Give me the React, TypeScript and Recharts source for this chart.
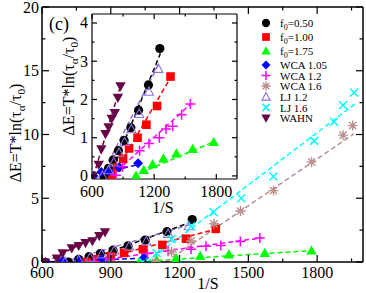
import React from 'react';
import { LineChart, Line, XAxis, YAxis, CartesianGrid } from 'recharts';

const FONT = '"Liberation Serif", "Times New Roman", serif';

// f0 = 0.50
const f050X = [715, 760, 805, 855, 910, 975, 1050, 1145, 1255];
const f050Y = [0.0, 0.2, 0.42, 0.66, 0.93, 1.26, 1.72, 2.38, 3.33];
const f050FitX = [775, 1260];
const f050FitY = [0, 3.2];

// f0 = 1.00
const f100X = [795, 842, 900, 958, 1040, 1125, 1228, 1358];
const f100Y = [0.0, 0.22, 0.45, 0.72, 1.0, 1.34, 1.83, 2.6];
const f100FitX = [805, 1360];
const f100FitY = [0, 2.58];

// f0 = 1.75
const f175X = [1025, 1100, 1185, 1290, 1415, 1572, 1775];
const f175Y = [0.0, 0.15, 0.3, 0.45, 0.58, 0.7, 0.88];
const f175FitX = [1000, 1780];
const f175FitY = [0, 0.9];

// WCA 1.05
const wca105X = [615, 690, 760, 860, 1045];
const wca105Y = [0.0, 0.1, 0.12, 0.22, 0.33];
const wca105FitX = [600, 1050];
const wca105FitY = [0, 0.3];

// WCA 1.2
const wca12X = [830, 895, 1060, 1150, 1250, 1315, 1380, 1465, 1550];
const wca12Y = [0.02, 0.24, 0.66, 0.85, 1.0, 1.23, 1.3, 1.6, 1.88];
const wca12FitX = [790, 1560];
const wca12FitY = [0, 1.9];

// WCA 1.6
const wca16X = [1095, 1165, 1250, 1350, 1466, 1610, 1776, 1913, 1955];
const wca16Y = [0.0, 0.8, 1.65, 3.0, 4.0, 5.6, 7.85, 9.95, 10.7];
const wca16FitX = [1140, 1960];
const wca16FitY = [0, 10.05];

// LJ 1.2
const lj12X = [700, 760, 810, 860, 915, 980, 1055, 1150, 1240];
const lj12Y = [0.0, 0.15, 0.35, 0.6, 0.88, 1.22, 1.62, 2.2, 2.8];
const lj12FitX = [690, 1250];
const lj12FitY = [0, 2.95];

// LJ 1.6
const lj16X = [1040, 1100, 1165, 1250, 1348, 1469, 1609, 1787, 1874, 1913, 1961];
const lj16Y = [0.0, 0.7, 1.8, 2.8, 3.9, 5.0, 6.7, 9.5, 11.0, 12.3, 13.3];
const lj16FitX = [1058, 1965];
const lj16FitY = [0, 12.4];

// WAHN
const wahnX = [610, 665, 690, 730, 760, 790, 820, 850, 875];
const wahnY = [0.0, 0.3, 0.7, 1.1, 1.28, 1.5, 1.65, 2.05, 2.35];
const wahnFitX = [615, 880];
const wahnFitY = [0, 2.4];

const mainXTicks = [600, 750, 900, 1050, 1200, 1350, 1500, 1650, 1800, 1950];
const mainXLabels = [600, 900, 1200, 1500, 1800];
const mainYTicks = [0, 2.5, 5, 7.5, 10, 12.5, 15, 17.5, 20];
const mainYLabels = [0, 5, 10, 15, 20];
const insetXTicks = [600, 900, 1200, 1500, 1800];
const insetXLabels = [600, 1200, 1800];
const insetYTicks = [0, 0.5, 1, 1.5, 2, 2.5, 3, 3.5, 4];
const insetYLabels = [0, 1, 2, 3, 4];

type Kind = 'circle' | 'square' | 'tri' | 'diamond' | 'plus' | 'star' | 'triOpen' | 'cross' | 'triDown';

const pts = (xs: number[], ys: number[]) => xs.map((x, i) => ({ x, y: ys[i] }));

const series = [
  { id: 'f050', label: 'f0=0.50', sub: true, kind: 'circle' as Kind, color: '#000000', xs: f050X, ys: f050Y, fx: f050FitX, fy: f050FitY, inset: true },
  { id: 'f100', label: 'f0=1.00', sub: true, kind: 'square' as Kind, color: '#ff0000', xs: f100X, ys: f100Y, fx: f100FitX, fy: f100FitY, inset: true },
  { id: 'f175', label: 'f0=1.75', sub: true, kind: 'tri' as Kind, color: '#00ff00', xs: f175X, ys: f175Y, fx: f175FitX, fy: f175FitY, inset: true },
  { id: 'wca105', label: 'WCA 1.05', sub: false, kind: 'diamond' as Kind, color: '#0000ff', xs: wca105X, ys: wca105Y, fx: wca105FitX, fy: wca105FitY, inset: true },
  { id: 'wca12', label: 'WCA 1.2', sub: false, kind: 'plus' as Kind, color: '#ff00ff', xs: wca12X, ys: wca12Y, fx: wca12FitX, fy: wca12FitY, inset: true },
  { id: 'wca16', label: 'WCA 1.6', sub: false, kind: 'star' as Kind, color: '#bc8f8f', xs: wca16X, ys: wca16Y, fx: wca16FitX, fy: wca16FitY, inset: false },
  { id: 'lj12', label: 'LJ 1.2', sub: false, kind: 'triOpen' as Kind, color: '#9370db', xs: lj12X, ys: lj12Y, fx: lj12FitX, fy: lj12FitY, inset: true },
  { id: 'lj16', label: 'LJ 1.6', sub: false, kind: 'cross' as Kind, color: '#00ffff', xs: lj16X, ys: lj16Y, fx: lj16FitX, fy: lj16FitY, inset: false },
  { id: 'wahn', label: 'WAHN', sub: false, kind: 'triDown' as Kind, color: '#670748', xs: wahnX, ys: wahnY, fx: wahnFitX, fy: wahnFitY, inset: true },
];

function Marker({ kind, cx, cy, color, s = 1 }: { kind: Kind; cx: number; cy: number; color: string; s?: number }) {
  if (cx == null || cy == null) return <g />;
  switch (kind) {
    case 'circle':
      return <circle cx={cx} cy={cy} r={4.6 * s} fill={color} />;
    case 'square':
      return <rect x={cx - 4.3 * s} y={cy - 4.3 * s} width={8.6 * s} height={8.6 * s} fill={color} />;
    case 'tri':
      return <polygon points={`${cx},${cy - 5.4 * s} ${cx - 5.2 * s},${cy + 3.8 * s} ${cx + 5.2 * s},${cy + 3.8 * s}`} fill={color} />;
    case 'triOpen':
      return <polygon points={`${cx},${cy - 5 * s} ${cx - 4.6 * s},${cy + 3.5 * s} ${cx + 4.6 * s},${cy + 3.5 * s}`} fill="none" stroke={color} strokeWidth={1.1} />;
    case 'triDown':
      return <polygon points={`${cx},${cy + 5.4 * s} ${cx - 5.2 * s},${cy - 3.8 * s} ${cx + 5.2 * s},${cy - 3.8 * s}`} fill={color} />;
    case 'diamond':
      return <polygon points={`${cx},${cy - 5 * s} ${cx + 5 * s},${cy} ${cx},${cy + 5 * s} ${cx - 5 * s},${cy}`} fill={color} />;
    case 'plus':
      return <path d={`M${cx - 5 * s},${cy}H${cx + 5 * s}M${cx},${cy - 5 * s}V${cy + 5 * s}`} stroke={color} strokeWidth={1.5} />;
    case 'cross':
      return <path d={`M${cx - 4 * s},${cy - 4 * s}L${cx + 4 * s},${cy + 4 * s}M${cx - 4 * s},${cy + 4 * s}L${cx + 4 * s},${cy - 4 * s}`} stroke={color} strokeWidth={1.5} />;
    case 'star':
      return (
        <path
          d={`M${cx - 5 * s},${cy}H${cx + 5 * s}M${cx},${cy - 5 * s}V${cy + 5 * s}M${cx - 3.6 * s},${cy - 3.6 * s}L${cx + 3.6 * s},${cy + 3.6 * s}M${cx - 3.6 * s},${cy + 3.6 * s}L${cx + 3.6 * s},${cy - 3.6 * s}`}
          stroke={color}
          strokeWidth={1.4}
        />
      );
  }
  return <g />;
}

// inward ticks, labels only on the major values
const makeTick = (side: 'bottom' | 'top' | 'left' | 'right', labels: number[], len: number, labelOff: number) =>
  (props: any) => {
    const { x, y, payload } = props;
    const v = payload.value;
    const major = labels.includes(v);
    const l = major ? len : len / 2;
    let line;
    if (side === 'bottom') line = <line x1={x} y1={y} x2={x} y2={y - l} stroke="#000" strokeWidth={1.2} />;
    else if (side === 'top') line = <line x1={x} y1={y} x2={x} y2={y + l} stroke="#000" strokeWidth={1.2} />;
    else if (side === 'left') line = <line x1={x} y1={y} x2={x + l} y2={y} stroke="#000" strokeWidth={1.2} />;
    else line = <line x1={x} y1={y} x2={x - l} y2={y} stroke="#000" strokeWidth={1.2} />;
    let text = null;
    if (major && side === 'bottom')
      text = <text x={x} y={y + labelOff} textAnchor="middle" fontSize={16} fontFamily={FONT} fill="#000">{v}</text>;
    if (major && side === 'left')
      text = <text x={x - labelOff} y={y + 5.5} textAnchor="end" fontSize={16} fontFamily={FONT} fill="#000">{v}</text>;
    return <g>{line}{text}</g>;
  };

const renderSeries = (inset: boolean) => {
  const list = inset ? series.filter((s) => s.inset) : series;
  const out: React.ReactNode[] = [];
  list.forEach((s) => {
    out.push(
      <Line
        key={s.id + '-fit'}
        xAxisId="b"
        yAxisId="l"
        data={pts(s.fx, s.fy)}
        dataKey="y"
        type="linear"
        stroke={s.color}
        strokeWidth={1.5}
        strokeDasharray="5 3"
        dot={false}
        activeDot={false}
        isAnimationActive={false}
      />
    );
  });
  list.forEach((s) => {
    out.push(
      <Line
        key={s.id}
        xAxisId="b"
        yAxisId="l"
        data={pts(s.xs, s.ys)}
        dataKey="y"
        type="linear"
        stroke="none"
        strokeWidth={0}
        dot={(p: any) => <Marker key={s.id + p.index} kind={s.kind} cx={p.cx} cy={p.cy} color={s.color} />}
        activeDot={false}
        isAnimationActive={false}
      />
    );
  });
  return out;
};

// four framing axes; sizes of 1 so that Recharts still draws them
const axisSet = (xTicks: number[], xLabels: number[], yTicks: number[], yLabels: number[], yDomain: number[], len: number, xOff: number, yOff: number, sw: number) => [
  <XAxis key="b" xAxisId="b" type="number" dataKey="x" domain={[600, 2000]} ticks={xTicks} interval={0} allowDataOverflow
    height={1} tickSize={0} tickMargin={0} axisLine={{ stroke: '#000', strokeWidth: sw }} tickLine={false}
    tick={makeTick('bottom', xLabels, len, xOff)} orientation="bottom" />,
  <XAxis key="t" xAxisId="t" type="number" dataKey="x" domain={[600, 2000]} ticks={xTicks} interval={0} allowDataOverflow
    height={1} tickSize={0} tickMargin={0} axisLine={{ stroke: '#000', strokeWidth: sw }} tickLine={false}
    tick={makeTick('top', xLabels, len, 0)} orientation="top" />,
  <YAxis key="l" yAxisId="l" type="number" domain={yDomain} ticks={yTicks} interval={0} allowDataOverflow
    width={1} tickSize={0} tickMargin={0} axisLine={{ stroke: '#000', strokeWidth: sw }} tickLine={false}
    tick={makeTick('left', yLabels, len, yOff)} orientation="left" />,
  <YAxis key="r" yAxisId="r" type="number" domain={yDomain} ticks={yTicks} interval={0} allowDataOverflow
    width={1} tickSize={0} tickMargin={0} axisLine={{ stroke: '#000', strokeWidth: sw }} tickLine={false}
    tick={makeTick('right', yLabels, len, 0)} orientation="right" />,
];

const YLabel = ({ x, y, size }: { x: number; y: number; size: number }) => (
  <text transform={`rotate(-90 ${x} ${y})`} x={x} y={y} textAnchor="middle" fontSize={size} fontFamily={FONT} fill="#000">
    ΔE=T*ln(τ<tspan dy={4} fontSize={size * 0.7}>α</tspan><tspan dy={-4}>/τ</tspan><tspan dy={4} fontSize={size * 0.7}>0</tspan><tspan dy={-4}>)</tspan>
  </text>
);

const legendY = [23, 37, 51, 65, 75.5, 86, 97, 107.5, 118];

export default function App() {
  return (
    <div style={{ position: 'absolute', left: 0, top: 0, width: 366, height: 293, background: '#fff' }}>
      <div style={{ position: 'absolute', left: 0, top: 0 }}>
        <LineChart width={366} height={293} margin={{ top: 6, right: 2, bottom: 30, left: 41 }}>
          {axisSet(mainXTicks, mainXLabels, mainYTicks, mainYLabels, [0, 20], 7, 16, 3, 1.5)}
          {renderSeries(false)}
        </LineChart>
      </div>
      <div style={{ position: 'absolute', left: 0, top: 0 }}>
        <LineChart width={366} height={293} margin={{ top: 13, right: 128, bottom: 113, left: 91 }}>
          <CartesianGrid xAxisId="b" yAxisId="l" fill="#fff" horizontal={false} vertical={false} />
          {axisSet(insetXTicks, insetXLabels, insetYTicks, insetYLabels, [-0.08, 4.235], 5, 18, 4, 1.2)}
          {renderSeries(true)}
        </LineChart>
      </div>
      <svg width={366} height={293} style={{ position: 'absolute', left: 0, top: 0, pointerEvents: 'none' }}>
        <YLabel x={21} y={133} size={16} />
        <YLabel x={74} y={86} size={16} />
        <text x={208} y={289} textAnchor="middle" fontSize={16} fontFamily={FONT}>1/S</text>
        <text x={163} y={213} textAnchor="middle" fontSize={16} fontFamily={FONT}>1/S</text>
        <text x={49} y={30} fontSize={18} fontFamily={FONT}>(c)</text>
        {series.map((s, i) => (
          <g key={s.id}>
            <Marker kind={s.kind} cx={266} cy={legendY[i]} color={s.color} s={0.9} />
            {s.sub ? (
              <text x={280} y={legendY[i] + 4} fontSize={11} fontFamily={FONT}>
                f<tspan dy={3} fontSize={8}>0</tspan><tspan dy={-3}>{s.label.slice(2)}</tspan>
              </text>
            ) : (
              <text x={280} y={legendY[i] + 4} fontSize={11} fontFamily={FONT}>{s.label}</text>
            )}
          </g>
        ))}
      </svg>
    </div>
  );
}
